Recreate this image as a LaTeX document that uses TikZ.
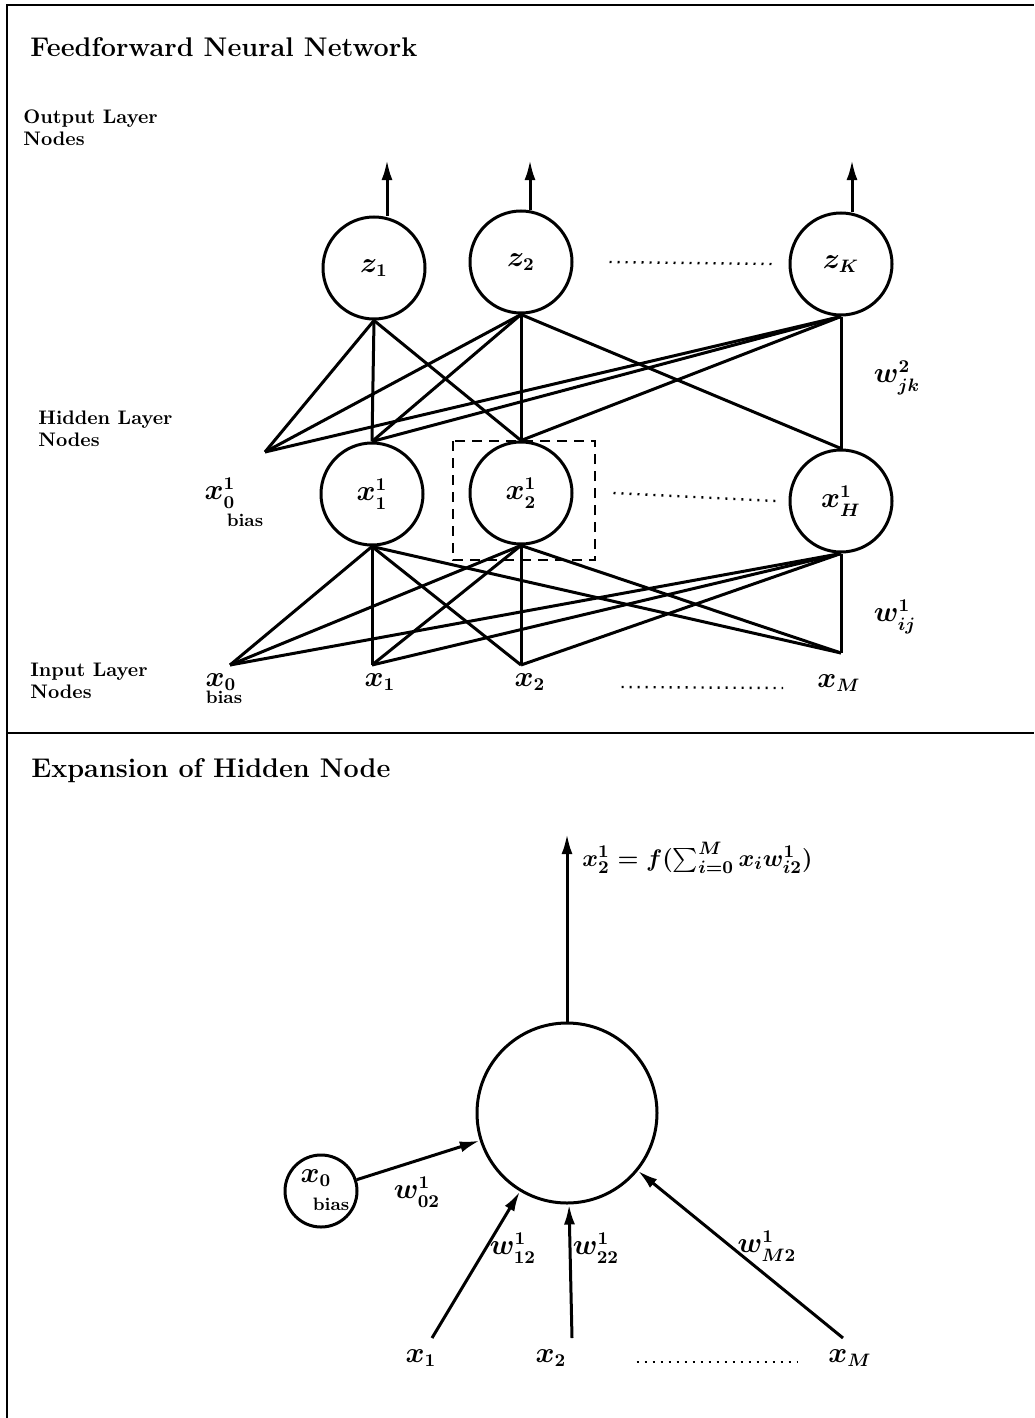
\documentclass[tikz,border=0pt]{standalone}
\usepackage{amsmath}
\usetikzlibrary{arrows.meta}
\tikzset{
  neuronnode/.style={circle,draw=black,line width=1.5pt,minimum size=51pt,inner sep=0pt,
    font=\fontsize{13.5}{15}\selectfont\boldmath},
  bigneuron/.style={circle,draw=black,line width=1.5pt,minimum size=90pt,inner sep=0pt},
  biasneuron/.style={circle,draw=black,line width=1.5pt,minimum size=36pt,inner sep=0pt},
  nnline/.style={line width=1.5pt},
  nnarrow/.style={-{Latex[length=10pt,width=5.5pt]},line width=1.5pt},
  dotrow/.style={line width=1.2pt,dash pattern=on 1pt off 3pt},
  focusbox/.style={line width=1.2pt,dash pattern=on 5pt off 3.5pt},
  framerule/.style={line width=1.3pt},
  sectitle/.style={anchor=base west,inner sep=0pt,font=\fontsize{13.5}{16}\selectfont\bfseries},
  layertext/.style={anchor=north west,inner sep=0pt,align=left,font=\fontsize{9.8}{11}\selectfont\bfseries},
  mathlabel/.style={inner sep=0pt,font=\fontsize{13.5}{15}\selectfont\boldmath},
  biastext/.style={inner sep=0pt,font=\fontsize{9}{10}\selectfont\bfseries}
}

\begin{document}
\begin{tikzpicture}[x=0.5pt,y=-0.5pt]
  \useasboundingbox (0,0) rectangle (1034,1418);
  % frame and divider
  \draw[framerule] (7,1418) -- (7,5) -- (1034,5);
  \draw[framerule] (7,733) -- (1034,733);

  % ---- feedforward network ----
  \node[sectitle] (nettitle) at (30,57) {Feedforward Neural Network};
  \node[layertext] (outlab) at (23,109) {Output Layer\\Nodes};
  \node[layertext] (hidlab) at (38,410) {Hidden Layer\\Nodes};
  \node[layertext] (inlab) at (30,663) {Input Layer\\Nodes};

  \node[neuronnode] (z1) at (374,268) {$z_1$};
  \node[neuronnode] (z2) at (521,262) {$z_2$};
  \node[neuronnode] (zK) at (841,264) {$z_K$};
  \coordinate (out1) at (387,160);
  \coordinate (out2) at (530,160);
  \coordinate (outK) at (852,160);
  \draw[nnarrow] (z1.north -| out1) -- (out1);
  \draw[nnarrow] (z2.north -| out2) -- (out2);
  \draw[nnarrow] (zK.north -| outK) -- (outK);

  \node[neuronnode] (x11) at (372,494) {$x^1_1$};
  \node[neuronnode] (x12) at (521,493) {$x^1_2$};
  \node[neuronnode] (x1H) at (841,501) {$x^1_H$};
  \coordinate (hb) at (265,452);
  \node[mathlabel] (hblab) at (220,493) {$x^1_0$};
  \node[biastext] (hbbias) at (245,520) {bias};

  \coordinate (in0) at (230,665);
  \coordinate (in1) at (372,665);
  \coordinate (in2) at (521,665);
  \coordinate (inM) at (841,653);
  \node[mathlabel] (lab0) at (221,682) {$x_0$};
  \node[biastext] (lab0bias) at (224,697) {bias};
  \node[mathlabel] (lab1) at (380,682) {$x_1$};
  \node[mathlabel] (lab2) at (530,682) {$x_2$};
  \node[mathlabel] (labM) at (839,683) {$x_M$};

  % hidden -> output
  \draw[nnline] (hb) -- (z1.south);
  \draw[nnline] (hb) -- (z2.south);
  \draw[nnline] (hb) -- (zK.south);
  \draw[nnline] (x11.north) -- (z1.south);
  \draw[nnline] (x11.north) -- (z2.south);
  \draw[nnline] (x11.north) -- (zK.south);
  \draw[nnline] (x12.north) -- (z1.south);
  \draw[nnline] (x12.north) -- (z2.south);
  \draw[nnline] (x12.north) -- (zK.south);
  \draw[nnline] (x1H.north) -- (z2.south);
  \draw[nnline] (x1H.north) -- (zK.south);
  % input -> hidden
  \draw[nnline] (in0) -- (x11.south);
  \draw[nnline] (in0) -- (x12.south);
  \draw[nnline] (in0) -- (x1H.south);
  \draw[nnline] (in1) -- (x11.south);
  \draw[nnline] (in1) -- (x12.south);
  \draw[nnline] (in1) -- (x1H.south);
  \draw[nnline] (in2) -- (x11.south);
  \draw[nnline] (in2) -- (x12.south);
  \draw[nnline] (in2) -- (x1H.south);
  \draw[nnline] (inM) -- (x11.south);
  \draw[nnline] (inM) -- (x12.south);
  \draw[nnline] (inM) -- (x1H.south);

  \draw[dotrow] ([xshift=18pt]z2.east) -- ([xshift=-8.5pt]zK.west);
  \draw[dotrow] ([xshift=20pt]x12.east) -- ([xshift=-6.5pt]x1H.west);
  \draw[dotrow] ([xshift=38pt,yshift=-2.5pt]lab2.east) -- ([xshift=-17pt,yshift=-2.5pt]labM.west);
  \draw[focusbox] (453,441) rectangle (595,560);

  \node[mathlabel] (w2) at (897,378) {$w^2_{jk}$};
  \node[mathlabel] (w1) at (895,617) {$w^1_{ij}$};

  % ---- expansion of hidden node ----
  \node[sectitle] (exptitle) at (31,777) {Expansion of Hidden Node};
  \node[bigneuron] (unit) at (567,1113) {};
  \coordinate (unitout) at (567,834);
  \draw[nnarrow] (unit.north) -- (unitout);
  \node[mathlabel,font=\fontsize{12.5}{15}\selectfont\boldmath,anchor=base west] (unitfn) at (582,866)
    {$x^1_2 = f(\sum_{i=0}^M x_i w^1_{i2})$};

  \node[biasneuron] (bias) at (321,1191) {};
  \node[mathlabel] (biasx) at (316,1178) {$x_0$};
  \node[biastext] (biasword) at (331,1204) {bias};
  \coordinate (src1) at (432,1338);
  \coordinate (src2) at (572,1338);
  \coordinate (srcM) at (843,1338);
  \draw[nnarrow] (bias) -- (unit);
  \draw[nnarrow] (src1) -- (unit);
  \draw[nnarrow] (src2) -- (unit);
  \draw[nnarrow] (srcM) -- (unit);

  \node[mathlabel] (w02) at (417,1192) {$w^1_{02}$};
  \node[mathlabel] (w12) at (513,1248) {$w^1_{12}$};
  \node[mathlabel] (w22) at (596,1248) {$w^1_{22}$};
  \node[mathlabel] (wM2) at (767,1246) {$w^1_{M2}$};

  \node[mathlabel] (srclab1) at (421,1358) {$x_1$};
  \node[mathlabel] (srclab2) at (551,1358) {$x_2$};
  \node[mathlabel] (srclabM) at (850,1358) {$x_M$};
  \draw[dotrow] ([xshift=35pt,yshift=-2pt]srclab2.east) -- ([xshift=-15pt,yshift=-2pt]srclabM.west);
\end{tikzpicture}
\end{document}
